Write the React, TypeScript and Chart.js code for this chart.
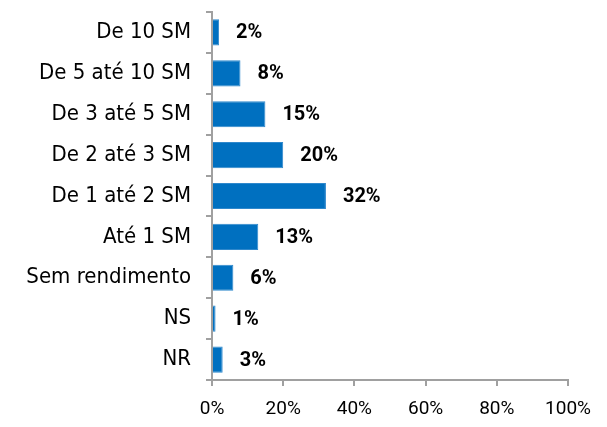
import React, { useEffect, useRef } from "react";
import { Chart, registerables } from "chart.js";

Chart.register(...registerables);

const categories = [
  "De 10 SM",
  "De 5 até 10 SM",
  "De 3 até 5 SM",
  "De 2 até 3 SM",
  "De 1 até 2 SM",
  "Até 1 SM",
  "Sem rendimento",
  "NS",
  "NR",
];
const values = [2, 8, 15, 20, 32, 13, 6, 1, 3];
const xTicks = [0, 20, 40, 60, 80, 100];

const CAT_FONT = "'DejaVu Sans Condensed', 'DejaVu Sans', sans-serif";
const NUM_FONT = "Roboto, sans-serif";

const labelPlugin = {
  id: "barLabels",
  afterDatasetsDraw(chart: any) {
    const ctx = chart.ctx;
    const meta = chart.getDatasetMeta(0);
    ctx.save();
    ctx.font = `bold 20px ${NUM_FONT}`;
    ctx.fillStyle = "#000000";
    ctx.textAlign = "left";
    ctx.textBaseline = "middle";
    meta.data.forEach((bar: any, i: number) => {
      ctx.fillText(values[i] + "%", bar.x + 17, bar.y + 1);
    });
    ctx.restore();
  },
};

export default function App() {
  const ref = useRef<HTMLCanvasElement | null>(null);
  useEffect(() => {
    if (!ref.current) return;
    const chart = new Chart(ref.current, {
      type: "bar",
      data: {
        labels: categories,
        datasets: [
          {
            data: values,
            backgroundColor: "#0070C0",
            borderColor: "#2F88CC",
            borderWidth: 1,
            categoryPercentage: 1,
            barPercentage: 0.64,
          },
        ],
      },
      options: {
        indexAxis: "y",
        animation: false,
        responsive: false,
        maintainAspectRatio: false,
        layout: { padding: { top: 12, right: 39, left: 0, bottom: 0 } },
        plugins: { legend: { display: false }, tooltip: { enabled: false } },
        scales: {
          x: {
            min: 0,
            max: 100,
            afterBuildTicks(scale: any) {
              scale.ticks = xTicks.map((v) => ({ value: v }));
            },
            afterFit(scale: any) {
              scale.height = 47;
              scale.paddingLeft = 0;
              scale.paddingRight = 0;
            },
            grid: {
              drawOnChartArea: false,
              drawTicks: true,
              tickLength: 6,
              color: "#A0A0A0",
              lineWidth: 2,
            },
            border: { color: "#A0A0A0", width: 2 },
            ticks: {
              color: "#000000",
              font: { family: NUM_FONT, size: 19 },
              padding: 12,
              callback: (v: any) => v + "%",
            },
          },
          y: {
            afterFit(scale: any) {
              scale.width = 212;
              scale.paddingTop = 0;
              scale.paddingBottom = 0;
            },
            grid: {
              drawOnChartArea: false,
              drawTicks: true,
              tickLength: 6,
              color: "#A0A0A0",
              lineWidth: 2,
              offset: true,
            },
            border: { color: "#A0A0A0", width: 2 },
            ticks: {
              color: "#000000",
              font: { family: CAT_FONT, size: 22 },
              padding: 15,
            },
          },
        },
      },
      plugins: [labelPlugin],
    } as any);
    return () => chart.destroy();
  }, []);
  return (
    <div style={{ position: "fixed", left: 0, top: 0, width: 607, height: 427, background: "#fff" }}>
      <canvas ref={ref} width={607} height={427} style={{ width: 607, height: 427 }} />
    </div>
  );
}
